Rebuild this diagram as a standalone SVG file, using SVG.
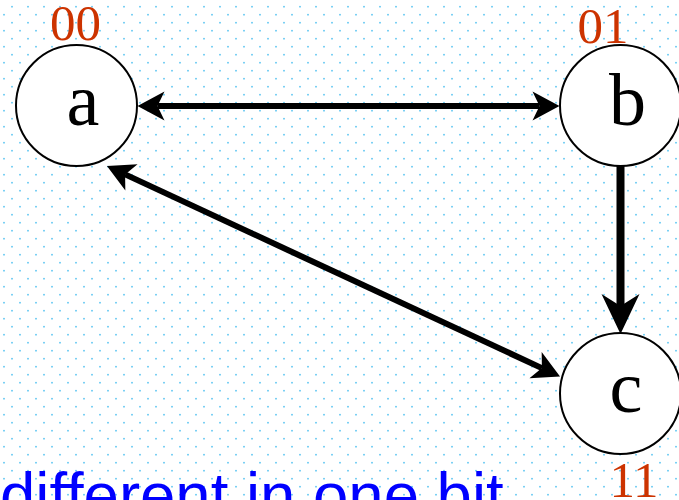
<svg xmlns="http://www.w3.org/2000/svg" width="679" height="500" viewBox="0 0 679 500">
  <defs>
    <pattern id="dots" patternUnits="userSpaceOnUse" width="16" height="16">
      <rect x="11.2" y="5.9" width="1.6" height="1.6" fill="#5bc5f2"/>
      <rect x="3.2" y="13.9" width="1.6" height="1.6" fill="#5bc5f2"/>
    </pattern>
    <marker id="arrow" markerUnits="userSpaceOnUse" orient="auto-start-reverse" refX="0" refY="0" markerWidth="60" markerHeight="60" viewBox="-30 -30 60 60" overflow="visible">
      <path d="M20,0 L-7,-14.5 L0,0 L-7,14.5 Z" fill="#000"/>
    </marker>
    <marker id="arrowBig" markerUnits="userSpaceOnUse" orient="auto" refX="0" refY="0" markerWidth="80" markerHeight="80" viewBox="-40 -40 80 80" overflow="visible">
      <path d="M28,0 L-12,-19 L0,0 L-12,19 Z" fill="#000"/>
    </marker>
    <style>
      .node circle { fill: #fff; stroke: #000; stroke-width: 2; }
      .node text.letter { font-family: "Liberation Serif", "Times New Roman", serif; font-size: 74px; fill: #000; text-anchor: middle; }
      .node text.code { font-family: "Liberation Serif", "Times New Roman", serif; font-size: 51px; fill: #cc3300; text-anchor: middle; }
      .edge { stroke: #000; fill: none; }
      .caption { font-family: "Liberation Sans", Arial, sans-serif; font-size: 63.5px; fill: #0000ff; }
    </style>
  </defs>

  <rect x="0" y="0" width="679" height="500" fill="#fff"/>
  <rect x="0" y="0" width="679" height="500" fill="url(#dots)"/>

  <g id="connectors">
    <line class="edge" x1="157.5" y1="106" x2="539.5" y2="106" stroke-width="6" marker-start="url(#arrow)" marker-end="url(#arrow)"/>
    <line class="edge" x1="620.5" y1="166" x2="620.5" y2="306" stroke-width="8" marker-end="url(#arrowBig)"/>
    <line class="edge" x1="125.1" y1="174.4" x2="541.9" y2="368.1" stroke-width="6" marker-start="url(#arrow)" marker-end="url(#arrow)"/>
  </g>

  <g id="node-a" class="node">
    <circle cx="76.5" cy="105.5" r="60.5"/>
    <text class="letter" x="83" y="124.5">a</text>
    <text class="code" x="75.5" y="40">00</text>
  </g>

  <g id="node-b" class="node">
    <circle cx="620.5" cy="105.5" r="60.5"/>
    <text class="letter" x="627.5" y="125">b</text>
    <text class="code" x="603" y="43">01</text>
  </g>

  <g id="node-c" class="node">
    <circle cx="620.5" cy="393.5" r="60.5"/>
    <text class="letter" x="626" y="411.5">c</text>
    <text class="code" x="634" y="497">11</text>
  </g>

  <text class="caption" x="0" y="517">different in one bit</text>
</svg>
